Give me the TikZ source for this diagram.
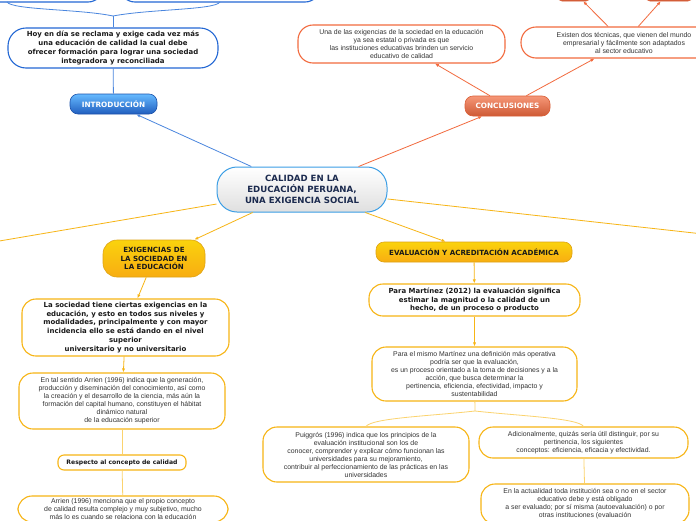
\documentclass[tikz,border=0pt]{standalone}
\usepackage{fontspec}
\setmainfont{Liberation Sans}
\newfontfamily\verdfont{DejaVu Sans}
\usetikzlibrary{arrows.meta}

\definecolor{mapblue}{HTML}{2468D4}
\definecolor{lineblue}{HTML}{4A86DE}
\definecolor{mapred}{HTML}{F26A3E}
\definecolor{mapgold}{HTML}{F7B515}
\definecolor{lightgold}{HTML}{FBD36E}
\definecolor{txtgrey}{HTML}{333333}
\definecolor{navy}{HTML}{1B2A4E}

\tikzset{
	boldtxt/.style={font=\verdfont\bfseries\fontsize{6.95}{8.9}\selectfont, text=black!90},
	plaintxt/.style={font=\fontsize{6.9}{8}\selectfont, text=txtgrey},
	bluebox/.style={draw=mapblue, line width=1.1pt, fill=white, rounded corners=15pt, align=center, inner sep=1pt},
	redbox/.style={draw=mapred, line width=1.1pt, fill=white, rounded corners=15pt, align=center, inner sep=1pt},
	goldbox/.style={draw=mapgold, line width=1.1pt, fill=white, rounded corners=14pt, align=center, inner sep=1pt},
	bluetopic/.style={draw=mapblue!80!black, line width=0.6pt, top color=blue!45!cyan!60!white, bottom color=mapblue!90!black, rounded corners=8pt, align=center, font=\verdfont\bfseries\fontsize{7.3}{8}\selectfont, text=white},
	redtopic/.style={draw=mapred!90!black, line width=0.6pt, top color=mapred!70!white, bottom color=mapred!85!black, rounded corners=8pt, align=center, font=\verdfont\bfseries\fontsize{7.3}{8}\selectfont, text=white},
	goldtopic/.style={draw=mapgold!90!black, line width=0.6pt, top color=mapgold!60!yellow, bottom color=mapgold!85!orange, rounded corners=8pt, align=center, font=\verdfont\bfseries\fontsize{7.1}{8.8}\selectfont, text=black!90},
	maintopic/.style={draw=lineblue!80!cyan, line width=1pt, top color=white, bottom color=gray!25, rounded corners=20pt, align=center, font=\verdfont\bfseries\fontsize{8.6}{11}\selectfont, text=navy},
	tip/.style={-{Latex[length=4pt,width=3.2pt]}},
	blueln/.style={draw=lineblue, line width=0.8pt},
	redln/.style={draw=mapred, line width=0.8pt},
	goldln/.style={draw=mapgold, line width=0.8pt},
	paleln/.style={draw=lightgold, line width=0.8pt}
}

\begin{document}
\begin{tikzpicture}[x=1pt,y=-1pt]
	\useasboundingbox (0,0) rectangle (696,520);
	\clip (0,0) rectangle (696,520);
	\fill[white] (0,0) rectangle (696,520);

	\draw (5,-14) node[bluebox, minimum width=196pt, minimum height=32pt](blue1) {};
	\draw (220,-14) node[bluebox, minimum width=200pt, minimum height=32pt](blue2) {};
	\draw (113,48) node[bluebox, boldtxt, minimum width=210pt, minimum height=40pt, rounded corners=18pt](hoy) {Hoy en día se reclama y exige cada vez más\\ una educación de calidad la cual debe\\ ofrecer formación para lograr una sociedad\\ integradora y reconciliada};
	\draw (113.5,104) node[bluetopic, minimum width=87pt, minimum height=20pt](intro) {INTRODUCCIÓN};
	\draw (302,189.5) node[maintopic, minimum width=170pt, minimum height=45pt](calidad) {CALIDAD EN LA\\ EDUCACIÓN PERUANA,\\ UNA EXIGENCIA SOCIAL};
	\draw (507.5,106) node[redtopic, minimum width=85pt, minimum height=20pt](concl) {CONCLUSIONES};
	\draw (401.5,44) node[redbox, plaintxt, minimum width=207pt, minimum height=38pt](una) {Una de las exigencias de la sociedad en la educación\\ ya sea estatal o privada es que\\ las instituciones educativas brinden un servicio\\ educativo de calidad};
	\draw (624,42.5) node[redbox, plaintxt, minimum width=206pt, minimum height=31pt](existen) {Existen dos técnicas, que vienen del mundo\\ empresarial y fácilmente son adaptados\\ al sector educativo};
	\draw (574,-8) node[redtopic, minimum width=32pt, minimum height=18pt, rounded corners=4pt](tecn1) {};
	\draw (669,-8) node[redtopic, minimum width=46pt, minimum height=18pt, rounded corners=4pt](tecn2) {};

	\draw (154,258.5) node[goldtopic, minimum width=102pt, minimum height=37pt, rounded corners=14pt](exig) {EXIGENCIAS DE\\ LA SOCIEDAD EN\\ LA EDUCACIÓN};
	\draw (125.5,327.5) node[goldbox, boldtxt, minimum width=207pt, minimum height=57pt](lasoc) {La sociedad tiene ciertas exigencias en la\\ educación, y esto en todos sus niveles y\\ modalidades, principalmente y con mayor\\ incidencia ello se está dando en el nivel\\ superior\\ universitario y no universitario};
	\draw (122,401) node[goldbox, plaintxt, minimum width=206pt, minimum height=56pt](talsent) {En tal sentido Arrien (1996) indica que la generación,\\ producción y diseminación del conocimiento, así como\\ la creación y el desarrollo de la ciencia, más aún la\\ formación del capital humano, constituyen el hábitat\\ dinámico natural\\ de la educación superior};
	\draw (122,462.5) node[goldbox, boldtxt, font=\verdfont\bfseries\fontsize{6.1}{8}\selectfont, minimum width=128pt, minimum height=15pt, rounded corners=6pt](respecto) {Respecto al concepto de calidad};
	\draw (123,509) node[goldbox, plaintxt, minimum width=210pt, minimum height=26pt](arrien) {Arrien (1996) menciona que el propio concepto\\ de calidad resulta complejo y muy subjetivo, mucho\\ más lo es cuando se relaciona con la educación};

	\draw (474,252) node[goldtopic, minimum width=196pt, minimum height=20pt](evalu) {EVALUACIÓN Y ACREDITACIÓN ACADÉMICA};
	\draw (474.5,300) node[goldbox, boldtxt, minimum width=211pt, minimum height=32pt](paramart) {Para Martínez (2012) la evaluación significa\\ estimar la magnitud o la calidad de un\\ hecho, de un proceso o producto};
	\draw (474.5,374) node[goldbox, plaintxt, minimum width=205pt, minimum height=54pt](mismo) {Para el mismo Martínez una definición más operativa\\ podría ser que la evaluación,\\ es un proceso orientado a la toma de decisiones y a la\\ acción, que busca determinar la\\ pertinencia, eficiencia, efectividad, impacto y\\ sustentabilidad};
	\draw (366,454.5) node[goldbox, plaintxt, minimum width=206pt, minimum height=55pt](puigg) {Puiggrós (1996) indica que los principios de la\\ evaluación institucional son los de\\ conocer, comprender y explicar cómo funcionan las\\ universidades para su mejoramiento,\\ contribuir al perfeccionamiento de las prácticas en las\\ universidades};
	\draw (583.5,442.5) node[goldbox, plaintxt, minimum width=209pt, minimum height=31pt](adic) {Adicionalmente, quizás sería útil distinguir, por su\\ pertinencia, los siguientes\\ conceptos: eficiencia, eficacia y efectividad.};
	\draw (585,504) node[goldbox, plaintxt, minimum width=208pt, minimum height=40pt](actual) {En la actualidad toda institución sea o no en el sector\\ educativo debe y está obligado\\ a ser evaluado; por sí misma (autoevaluación) o por\\ otras instituciones (evaluación};

	\coordinate (bluehub) at (113,16);
	\coordinate (goldhub) at (475,411);
	\coordinate (offleft) at (-30,246);
	\coordinate (offright) at (730,237);

	\draw[blueln] (hoy) -- (bluehub);
	\draw[blueln] (bluehub) .. controls (80,9) and (12,10) .. (7,2);
	\draw[blueln] (bluehub) .. controls (150,9) and (215,10) .. (220,2);
	\draw[blueln] (hoy) -- (intro);
	\draw[blueln, tip] (calidad) -- (intro);
	\draw[redln, tip] (calidad) -- (concl);
	\draw[redln, tip] (concl) -- (una);
	\draw[redln, tip] (concl) -- (existen);
	\draw[redln, tip] (existen) -- (tecn1);
	\draw[redln, tip] (existen) -- (tecn2);
	\draw[goldln] (calidad) -- (offleft);
	\draw[goldln] (calidad) -- (offright);
	\draw[goldln, tip] (calidad) -- (exig);
	\draw[goldln, tip] (calidad) -- (evalu);
	\draw[goldln, tip] (exig) -- (lasoc);
	\draw[goldln, tip] (lasoc) -- (talsent);
	\draw[paleln] (talsent) -- (respecto);
	\draw[paleln] (respecto) -- (arrien);
	\draw[goldln, tip] (evalu) -- (paramart);
	\draw[goldln, tip] (paramart) -- (mismo);
	\draw[paleln] (mismo) -- (goldhub);
	\draw[paleln] (goldhub) .. controls (430,416) and (372,418) .. (puigg.north);
	\draw[paleln] (goldhub) .. controls (520,416) and (578,418) .. (adic.north);
	\draw[paleln] (adic) -- (actual);
\end{tikzpicture}
\end{document}
